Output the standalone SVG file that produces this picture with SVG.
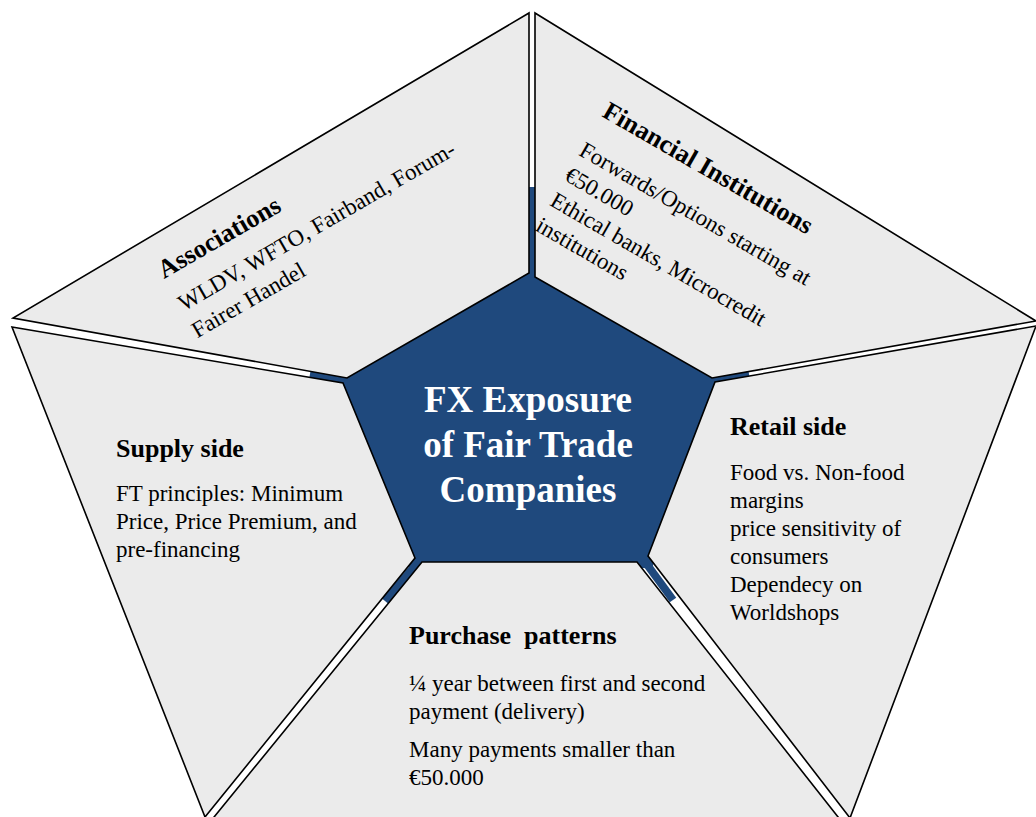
<svg xmlns="http://www.w3.org/2000/svg" width="1036" height="817" viewBox="0 0 1036 817">
<style>
.seg{fill:#ebebeb;stroke:#000;stroke-width:1.6;stroke-linejoin:miter}
.gap{stroke:#1f497d;stroke-width:8;fill:none}
.t{font-family:"Liberation Serif","Times New Roman",serif;font-size:23px;fill:#000;white-space:pre}
.h{font-family:"Liberation Serif","Times New Roman",serif;font-size:26px;font-weight:bold;fill:#000;white-space:pre}
.c{font-family:"Liberation Serif","Times New Roman",serif;font-size:37px;font-weight:bold;fill:#fff;text-anchor:middle}
</style>
<rect width="1036" height="817" fill="#fff"/>
<g id="connectors">
<polygon points="532,262 728,378 652,568 410,570 330,378" fill="#1f497d"/>
<line class="gap" x1="532" y1="280" x2="532" y2="187"/>
<line class="gap" x1="345" y1="380" x2="310" y2="374"/>
<line class="gap" x1="714" y1="380" x2="749" y2="374"/>
<line class="gap" x1="419" y1="561" x2="385" y2="601"/>
<line class="gap" x1="643" y1="559" x2="673" y2="600"/>
</g>
<g id="associations">
<polygon class="seg" points="529,13 529,273 347,378 13,318"/>
<g transform="translate(164,279) rotate(-30)">
<text class="h" x="0" y="0">Associations</text>
<text class="t" x="1" y="38">WLDV, WFTO, Fairband, Forum-</text>
<text class="t" x="-1" y="68">Fairer Handel</text>
</g>
</g>
<g id="financial">
<polygon class="seg" points="535,13 1036,321 712,378 535,277"/>
<g transform="translate(601,116) rotate(30)">
<text class="h" x="0" y="0">Financial Institutions</text>
<text class="t" x="-1" y="45">Forwards/Options starting at</text>
<text class="t" x="-1" y="74">€50.000</text>
<text class="t" x="-1" y="103">Ethical banks, Microcredit</text>
<text class="t" x="-1" y="132">institutions</text>
</g>
</g>
<g id="retail">
<polygon class="seg" points="1036,326 715,382 648,556 850,818"/>
<text class="h" x="730" y="435">Retail side</text>
<text class="t" x="730" y="480">Food vs. Non-food</text>
<text class="t" x="730" y="508">margins</text>
<text class="t" x="730" y="536">price sensitivity of</text>
<text class="t" x="730" y="564">consumers</text>
<text class="t" x="730" y="592">Dependecy on</text>
<text class="t" x="730" y="620">Worldshops</text>
</g>
<g id="purchase">
<polygon class="seg" points="422,562 637,562 842,822 210,822"/>
<text class="h" x="409" y="644">Purchase  patterns</text>
<text class="t" x="409" y="691">¼ year between first and second</text>
<text class="t" x="409" y="719">payment (delivery)</text>
<text class="t" x="409" y="757">Many payments smaller than</text>
<text class="t" x="409" y="785">€50.000</text>
</g>
<g id="supply">
<polygon class="seg" points="12,327 343,383 415,558 205,817"/>
<text class="h" x="116" y="457">Supply side</text>
<text class="t" x="116" y="501">FT principles: Minimum</text>
<text class="t" x="116" y="529">Price, Price Premium, and</text>
<text class="t" x="116" y="557">pre-financing</text>
</g>
<g id="center">
<text class="c" x="528" y="412">FX Exposure</text>
<text class="c" x="528" y="457">of Fair Trade</text>
<text class="c" x="528" y="502">Companies</text>
</g>
</svg>
